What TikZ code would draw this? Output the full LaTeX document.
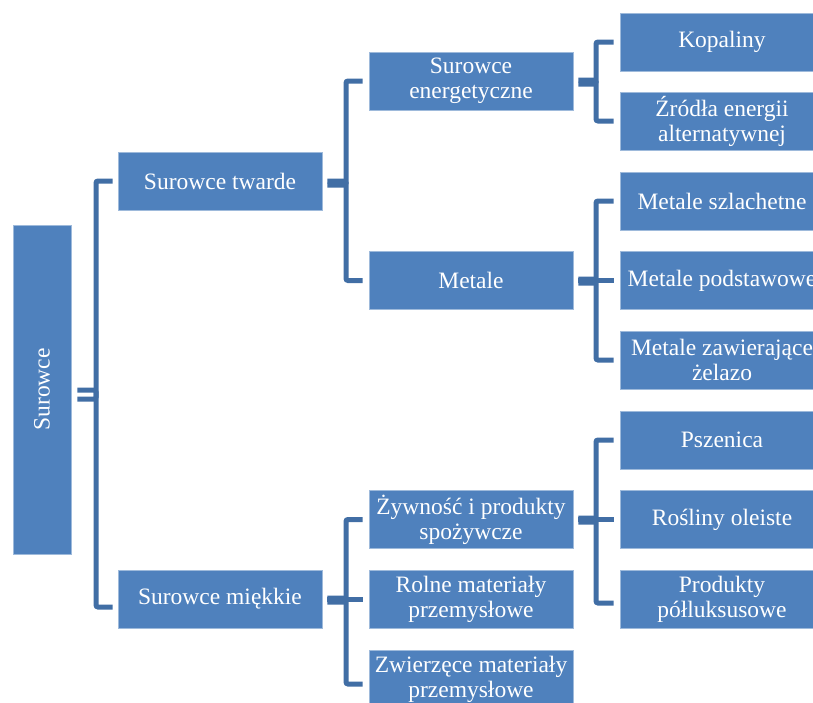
\documentclass[tikz,border=0pt]{standalone}
\usepackage{fontspec}
\setmainfont{Liberation Serif}
\usetikzlibrary{calc}
\definecolor{boxblue}{HTML}{4F81BD}
\definecolor{linkblue}{HTML}{416EA5}
\tikzset{
  box/.style={fill=boxblue, draw=white!45!boxblue, line width=0.8pt,
    minimum width=204pt, minimum height=58pt, inner sep=0pt, text=white,
    align=center, font=\fontsize{23.5}{25}\selectfont},
  conn/.style={draw=linkblue, line width=5pt, rounded corners=2pt}
}
\begin{document}
\begin{tikzpicture}[x=1pt,y=-1pt]
\clip (0,0) rectangle (813,702);
\fill[white] (0,0) rectangle (813,702);
% bracket columns
\coordinate (b0) at (96,0);
\coordinate (b1) at (346,0);
\coordinate (b2) at (596,0);
% root
\node[box, rotate=90, minimum width=329pt, minimum height=58pt] (root) at (42,389.5) {Surowce};
% level 1
\node[box] (t1) at (220,181) {Surowce twarde};
\node[box] (t2) at (220,599) {Surowce miękkie};
% level 2
\node[box] (e1) at (471,81) {Surowce\\energetyczne};
\node[box] (m1) at (471,280.5) {Metale};
\node[box] (z1) at (471,519.5) {Żywność i produkty\\spożywcze};
\node[box] (r1) at (471,599) {Rolne materiały\\przemysłowe};
\node[box] (w1) at (471,679) {Zwierzęce materiały\\przemysłowe};
% level 3
\node[box] (k1) at (722,42) {Kopaliny};
\node[box] (s1) at (722,121) {Źródła energii\\alternatywnej};
\node[box] (ms) at (722,201) {Metale szlachetne};
\node[box] (mp) at (722,280.5) {Metale podstawowe};
\node[box] (mz) at (722,360) {Metale zawierające\\żelazo};
\node[box] (p1) at (722,440) {Pszenica};
\node[box] (ro) at (722,519.5) {Rośliny oleiste};
\node[box] (pp) at (722,599) {Produkty\\półluksusowe};
% connectors: root
\draw[conn] ([xshift=6pt,yshift=-9.5pt]root.south) -| (b0 |- t1) -- ([xshift=-5pt]t1.west);
\draw[conn] ([xshift=6pt,yshift=-0.5pt]root.south) -| ($(b0 |- t2)+(0,8)$) -- ([xshift=-5pt,yshift=-8pt]t2.west);
% Surowce twarde
\draw[conn] ([xshift=5pt,yshift=-4pt]t1.east) -| (b1 |- e1) -- ([xshift=-6pt]e1.west);
\draw[conn] ([xshift=5pt]t1.east) -| (b1 |- m1) -- ([xshift=-6pt]m1.west);
% Surowce miekkie
\draw[conn] ([xshift=5pt,yshift=-3pt]t2.east) -| (b1 |- z1) -- ([xshift=-6pt]z1.west);
\draw[conn] ([xshift=5pt]t2.east) -- ([xshift=-6pt]r1.west);
\draw[conn] ([xshift=5pt,yshift=1pt]t2.east) -| ($(b1 |- w1)+(0,5)$) -- ([xshift=-6pt,yshift=-5pt]w1.west);
% Surowce energetyczne
\draw[conn] ([xshift=5pt,yshift=-3pt]e1.east) -| (b2 |- k1) -- ([xshift=-6pt]k1.west);
\draw[conn] ([xshift=5pt,yshift=1pt]e1.east) -| (b2 |- s1) -- ([xshift=-6pt]s1.west);
% Metale
\draw[conn] ([xshift=5pt,yshift=-2.5pt]m1.east) -| (b2 |- ms) -- ([xshift=-6pt]ms.west);
\draw[conn] ([xshift=5pt]m1.east) -- ([xshift=-6pt]mp.west);
\draw[conn] ([xshift=5pt,yshift=1.5pt]m1.east) -| (b2 |- mz) -- ([xshift=-6pt]mz.west);
% Zywnosc
\draw[conn] ([xshift=5pt,yshift=-2.5pt]z1.east) -| (b2 |- p1) -- ([xshift=-6pt]p1.west);
\draw[conn] ([xshift=5pt]z1.east) -- ([xshift=-6pt]ro.west);
\draw[conn] ([xshift=5pt,yshift=1.5pt]z1.east) -| ($(b2 |- pp)+(0,4)$) -- ([xshift=-6pt,yshift=-4pt]pp.west);
\end{tikzpicture}
\end{document}
